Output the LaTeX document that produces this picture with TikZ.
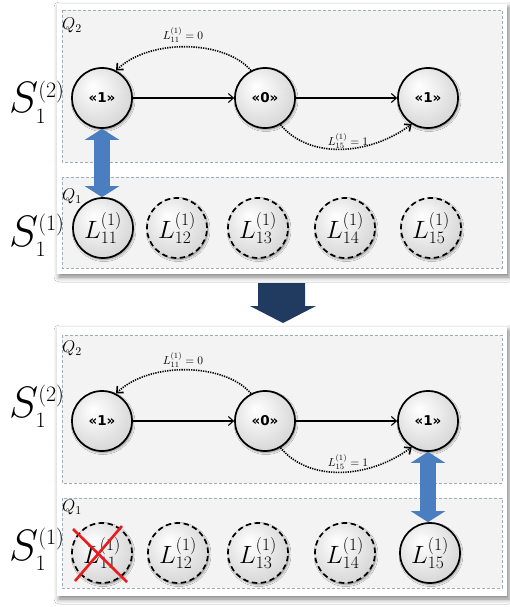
\RequirePackage{fix-cm}
\documentclass[tikz,border=0pt]{standalone}
\usepackage{fontspec}
\newfontfamily\guifont{DejaVu Sans}
\usetikzlibrary{arrows.meta,shadows.blur}
\definecolor{boxfill}{RGB}{243,243,243}
\definecolor{boxline}{RGB}{160,172,188}
\definecolor{linkblue}{RGB}{74,126,192}
\definecolor{navyarrow}{RGB}{32,58,96}
\definecolor{crossred}{RGB}{232,28,28}
\pgfdeclareradialshading{nodeball}{\pgfpoint{-8bp}{10bp}}{color(0bp)=(white); color(12bp)=(black!6); color(30bp)=(black!16); color(50bp)=(black!28)}
\begin{document}
\begin{tikzpicture}[x=1pt,y=-1pt,
  card/.style={fill=white, blur shadow={shadow xshift=2pt, shadow yshift=-3pt, shadow blur radius=5pt, shadow opacity=50}},
  qbox/.style={draw=boxline, fill=boxfill, dash pattern=on 3pt off 2pt, line width=0.6pt},
  state/.style={circle, minimum size=60pt, inner sep=0pt, draw=black, line width=1.7pt, shading=nodeball,
    blur shadow={shadow xshift=1pt, shadow yshift=-1.5pt, shadow blur radius=2pt, shadow opacity=45}},
  idle/.style={state, dash pattern=on 5.5pt off 3.5pt},
  val/.style={font=\guifont\bfseries\fontsize{13.5}{15}\selectfont},
  lab/.style={font=\fontsize{25}{27}\selectfont},
  biglab/.style={anchor=base west, inner sep=0pt, font=\fontsize{44}{48}\selectfont},
  qlab/.style={anchor=north west, inner sep=1pt, font=\fontsize{17}{19}\selectfont},
  edgelab/.style={inner sep=0pt, font=\fontsize{11.5}{13}\selectfont},
  flow/.style={line width=1.1pt, -{Straight Barb[length=5pt,width=9pt]}},
  dotflow/.style={line width=1.6pt, dash pattern=on 1.3pt off 1.1pt, -{Straight Barb[length=5pt,width=9pt]}},
  linkarrow/.style={draw=linkblue, line width=16pt, {Triangle[length=11pt,width=34pt]}-{Triangle[length=11pt,width=34pt]}},
  crossline/.style={draw=crossred, line width=2.6pt}
]
\fill[white] (0,0) rectangle (510,607);
\useasboundingbox (0,0) rectangle (510,607);

% ---------- panel 1 ----------
\path[card] (57,4) rectangle (507,274);
\path[qbox] (62,10) rectangle (502,162);
\path[qbox] (62,177) rectangle (502,268);
\node[qlab] (q2a) at (61,17) {$Q_2$};
\node[qlab] (q1a) at (61,188) {$Q_1$};
\node[biglab] (s2a) at (9,113) {$S^{\scriptscriptstyle(2)}_{\scriptscriptstyle 1}$};
\node[biglab] (s1a) at (9,246) {$S^{\scriptscriptstyle(1)}_{\scriptscriptstyle 1}$};

\node[state, val] (a1) at (102,98) {«1»};
\node[state, val] (a0) at (265,98) {«0»};
\node[state, val] (a2) at (428,98) {«1»};
\draw[flow] (a1) -- (a0);
\draw[flow] (a0) -- (a2);
\draw[dotflow] (a0.117) .. controls (225,40) and (150,38) .. (a1.63);
\draw[dotflow] (a0.-60) .. controls (310,160) and (370,155) .. (a2.-122);
\node[edgelab] (ea1) at (183,35) {$L^{(1)}_{11}=0$};
\node[edgelab] (ea2) at (348,141) {$L^{(1)}_{15}=1$};

\node[state, lab] (la1) at (103,228) {$L^{(1)}_{11}$};
\node[idle, lab] (la2) at (177,228) {$L^{(1)}_{12}$};
\node[idle, lab] (la3) at (258,228) {$L^{(1)}_{13}$};
\node[idle, lab] (la4) at (345,228) {$L^{(1)}_{14}$};
\node[idle, lab] (la5) at (431,228) {$L^{(1)}_{15}$};
\draw[linkarrow] (a1.south) -- (a1.south |- la1.north);

% ---------- transition arrow ----------
\fill[navyarrow] (258,283) -- (305,283) -- (305,306) -- (316,306) -- (283,323) -- (250,306) -- (258,306) -- cycle;

% ---------- panel 2 ----------
\path[card] (57,327) rectangle (507,596);
\path[qbox] (62,335) rectangle (502,483);
\path[qbox] (62,498) rectangle (502,588);
\node[qlab] (q2b) at (61,340) {$Q_2$};
\node[qlab] (q1b) at (61,499) {$Q_1$};
\node[biglab] (s2b) at (9,417) {$S^{\scriptscriptstyle(2)}_{\scriptscriptstyle 1}$};
\node[biglab] (s1b) at (9,560) {$S^{\scriptscriptstyle(1)}_{\scriptscriptstyle 1}$};

\node[state, val] (b1) at (102,421) {«1»};
\node[state, val] (b0) at (265,421) {«0»};
\node[state, val] (b2) at (428,421) {«1»};
\draw[flow] (b1) -- (b0);
\draw[flow] (b0) -- (b2);
\draw[dotflow] (b0.117) .. controls (225,363) and (150,361) .. (b1.63);
\draw[dotflow] (b0.-60) .. controls (310,483) and (370,478) .. (b2.-122);
\node[edgelab] (eb1) at (183,360) {$L^{(1)}_{11}=0$};
\node[edgelab] (eb2) at (348,462) {$L^{(1)}_{15}=1$};

\node[idle, lab] (lb1) at (102,553) {$L^{(1)}_{11}$};
\node[idle, lab] (lb2) at (178,553) {$L^{(1)}_{12}$};
\node[idle, lab] (lb3) at (258,553) {$L^{(1)}_{13}$};
\node[idle, lab] (lb4) at (345,553) {$L^{(1)}_{14}$};
\node[state, lab] (lb5) at (430,553) {$L^{(1)}_{15}$};
\draw[linkarrow] (b2.south) -- (b2.south |- lb5.north);

\draw[crossline] ([xshift=-29pt,yshift=24pt]lb1.center) -- ([xshift=25pt,yshift=-29pt]lb1.center);
\draw[crossline] ([xshift=20pt,yshift=27pt]lb1.center) -- ([xshift=-27pt,yshift=-28pt]lb1.center);
\end{tikzpicture}
\end{document}
